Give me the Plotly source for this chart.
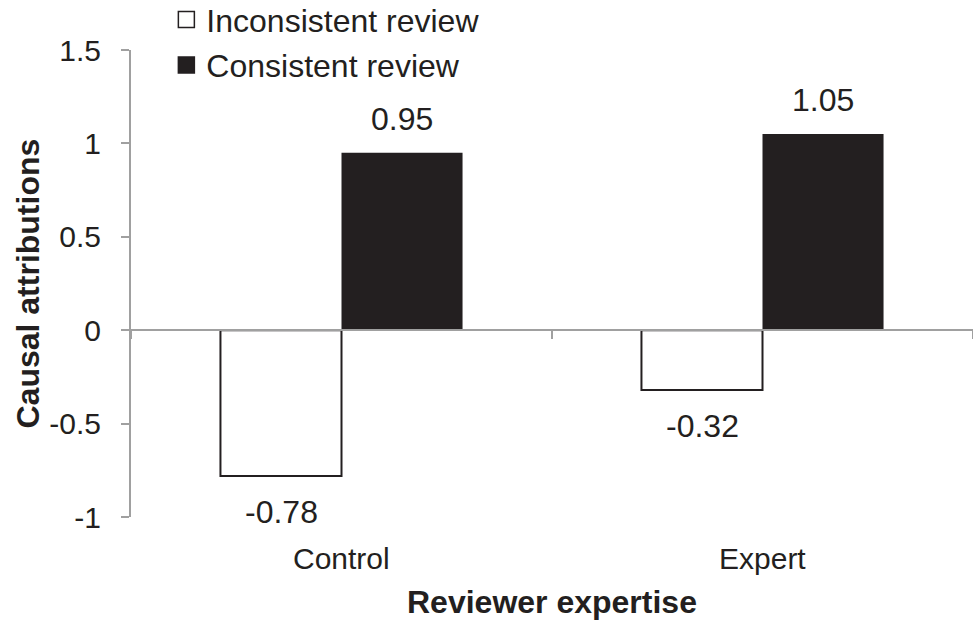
import plotly.graph_objects as go

# Data
categories = ["Control", "Expert"]
inconsistent = [-0.78, -0.32]
consistent = [0.95, 1.05]
series_names = ["Inconsistent review", "Consistent review"]
y_ticks = [-1, -0.5, 0, 0.5, 1, 1.5]
y_tick_labels = ["-1", "-0.5", "0", "0.5", "1", "1.5"]

INK = "#231f20"
AXIS_GREY = "#a0a0a0"
FONT = "Liberation Sans, Arial, Helvetica, sans-serif"

fig = go.Figure()
fig.add_trace(go.Bar(
    x=categories, y=inconsistent, name=series_names[0],
    marker=dict(color="white", line=dict(color=INK, width=2)),
    showlegend=False,
))
fig.add_trace(go.Bar(
    x=categories, y=consistent, name=series_names[1],
    marker=dict(color=INK, line=dict(color=INK, width=0)),
    showlegend=False,
))
# legend keys drawn as larger square swatches
for name, fill, group in ((series_names[0], "white", "a"), (series_names[1], INK, "b")):
    fig.add_trace(go.Scatter(
        x=[None], y=[None], mode="markers", name=name, legendgroup=group,
        marker=dict(symbol="square", size=17, color=fill,
                    line=dict(color=INK, width=1.5)),
    ))

annotations = []
# value labels beyond the end of each bar
for i, cat in enumerate(categories):
    for series, offset in ((inconsistent, -0.5), (consistent, 0.5)):
        v = series[i]
        annotations.append(dict(
            x=cat, y=v, xref="x", yref="y",
            text=f"{v:.2f}", showarrow=False,
            xshift=offset * 121,
            yshift=34 if v >= 0 else -36,
            yanchor="middle",
            font=dict(family=FONT, size=32, color=INK),
        ))
# category labels along the bottom
for cat in categories:
    annotations.append(dict(
        x=cat, y=0, xref="x", yref="paper",
        text=cat, showarrow=False, yanchor="middle", yshift=-41,
        font=dict(family=FONT, size=30, color=INK),
    ))
# axis titles
annotations.append(dict(
    x=0.5, y=0, xref="paper", yref="paper", text="<b>Reviewer expertise</b>",
    showarrow=False, yanchor="middle", yshift=-85,
    font=dict(family=FONT, size=32, color=INK),
))
annotations.append(dict(
    x=0, y=0.5, xref="paper", yref="paper", text="<b>Causal attributions</b>",
    showarrow=False, textangle=-90, xanchor="center", xshift=-104,
    font=dict(family=FONT, size=32, color=INK),
))

fig.update_layout(
    width=973, height=625,
    margin=dict(l=131, r=0, t=50, b=108, autoexpand=False),
    paper_bgcolor="white", plot_bgcolor="white",
    barmode="group", bargap=0.425, bargroupgap=0,
    showlegend=True,
    legend=dict(
        x=0.042, y=1.124, xanchor="left", yanchor="top",
        orientation="v", traceorder="grouped", tracegroupgap=1,
        font=dict(family=FONT, size=32, color=INK),
        bgcolor="rgba(0,0,0,0)", itemclick=False,
    ),
    annotations=annotations,
    xaxis=dict(
        type="category", range=[-0.5, 1.5],
        anchor="free", position=0.4,
        showline=True, linecolor=AXIS_GREY, linewidth=2,
        ticks="outside", tickson="boundaries", ticklen=8,
        tickcolor=AXIS_GREY, tickwidth=2,
        showticklabels=False, showgrid=False, zeroline=False,
    ),
    yaxis=dict(
        range=[-1, 1.5], tickvals=y_ticks, ticktext=y_tick_labels,
        showline=True, linecolor=AXIS_GREY, linewidth=2,
        ticks="outside", ticklen=8, tickcolor=AXIS_GREY, tickwidth=2,
        tickfont=dict(family=FONT, size=30, color=INK),
        ticklabelstandoff=14,
        showgrid=False, zeroline=False,
    ),
)

fig.write_html("out.html")
